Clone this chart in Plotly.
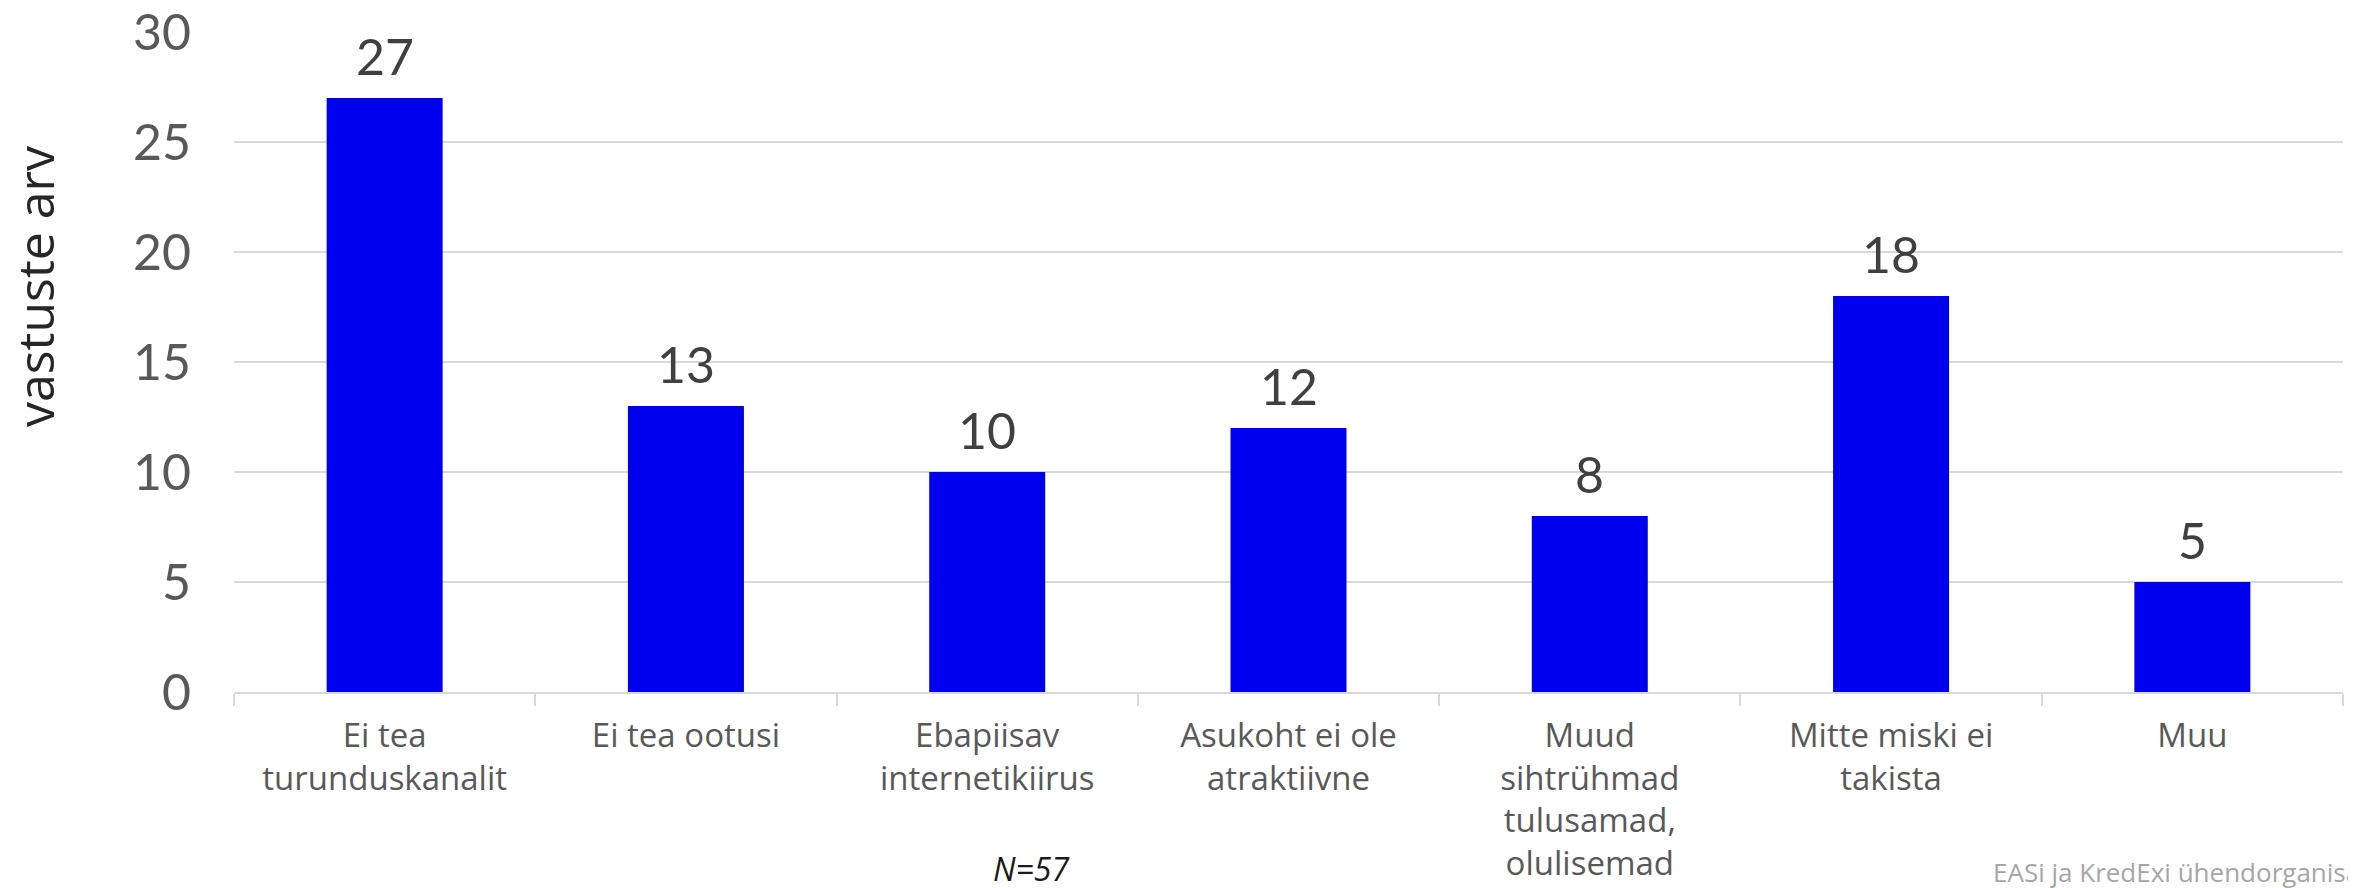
import plotly.graph_objects as go

categories = [
    "Ei tea<br>turunduskanalit",
    "Ei tea ootusi",
    "Ebapiisav<br>internetikiirus",
    "Asukoht ei ole<br>atraktiivne",
    "Muud<br>sihtrühmad<br>tulusamad,<br>olulisemad",
    "Mitte miski ei<br>takista",
    "Muu",
]
values = [27, 13, 10, 12, 8, 18, 5]
y_ticks = [0, 5, 10, 15, 20, 25, 30]

# page body has an 8px margin; compensate so the chart lands on the 2356x888 window
OFF = 8
W, H = 2356 - OFF, 888 - OFF
ML, MR, MT, MB = 234 - OFF, 13, 32 - OFF, 196
PW = W - ML - MR
PH = H - MT - MB
NUM_FONT = "Lato, 'Open Sans', sans-serif"
TXT_FONT = "'Open Sans', Lato, sans-serif"


def px_x(page_x):
    return (page_x - OFF - ML) / PW


def px_y(page_y):
    return (H - MB - (page_y - OFF)) / PH


fig = go.Figure()
fig.add_trace(go.Bar(
    x=categories, y=values,
    marker=dict(color="#0000EE", line=dict(width=0)),
    width=0.385,
    hoverinfo="skip",
))

annotations = []
for c, v in zip(categories, values):
    annotations.append(dict(
        x=c, y=v, xref="x", yref="y", text=str(v), showarrow=False,
        yanchor="bottom", yshift=10,
        font=dict(family=NUM_FONT, size=50, color="#404040"),
    ))

annotations.append(dict(
    x=px_x(35), xref="paper", y=px_y(287), yref="paper",
    xanchor="center", yanchor="middle",
    text="vastuste arv", textangle=-90, showarrow=False,
    font=dict(family=TXT_FONT, size=50, color="#262626"),
))
annotations.append(dict(
    x=px_x(1031), xref="paper", y=px_y(869), yref="paper",
    xanchor="center", yanchor="middle",
    text="<i>N=57</i>", showarrow=False,
    font=dict(family=TXT_FONT, size=32, color="#1a1a1a"),
))
annotations.append(dict(
    x=px_x(1991), xref="paper", y=px_y(872), yref="paper",
    xanchor="left", yanchor="middle",
    text="EASi ja KredExi ühendorganisatsioon", showarrow=False,
    font=dict(family=TXT_FONT, size=26, color="#a6a6a6"),
))

fig.update_layout(
    width=W, height=H,
    margin=dict(l=ML, r=MR, t=MT, b=MB, pad=0),
    paper_bgcolor="white", plot_bgcolor="white",
    showlegend=False,
    annotations=annotations,
)
fig.update_xaxes(
    tickson="boundaries", ticks="outside", ticklen=12, tickwidth=2, tickcolor="#d9d9d9",
    showline=True, linecolor="#d9d9d9", linewidth=2,
    showgrid=False, automargin=False,
    tickfont=dict(family=TXT_FONT, size=33, color="#595959"),
    ticklabelstandoff=13,
)
fig.update_yaxes(
    range=[0, 30], tickvals=y_ticks, ticktext=[str(t) for t in y_ticks],
    showgrid=True, gridcolor="#d9d9d9", gridwidth=2,
    zeroline=False, showline=False, ticks="", automargin=False,
    tickfont=dict(family=NUM_FONT, size=50, color="#595959"),
    ticklabelstandoff=42, ticklabeloverflow="allow",
)

fig.write_html("out.html")
